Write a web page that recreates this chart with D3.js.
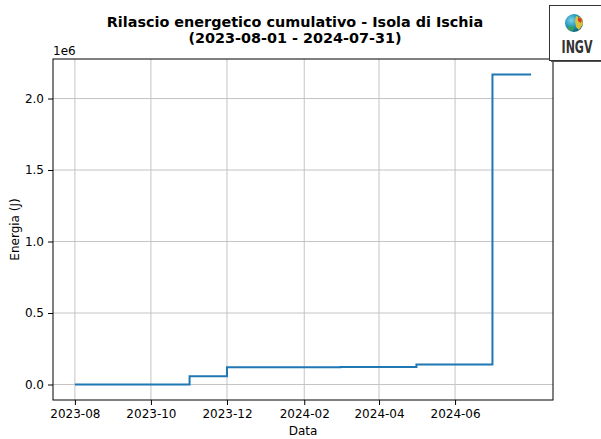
<!DOCTYPE html>
<html lang="it">
  <head>
    <meta charset="UTF-8" />
    <title>Rilascio energetico cumulativo - Isola di Ischia</title>
    <script src="https://d3js.org/d3.v7.min.js"></script>
    <style>
      body { margin: 0; background: #fff; }
      text { font-family: "DejaVu Sans", sans-serif; fill: #000; }
    </style>
  </head>
  <body>
    <svg width="601" height="439"></svg>
    <script>
      // cumulative energy, one point per month (step after), last point = end of period
      const dates = [
        "2023-08-01", "2023-09-01", "2023-10-01", "2023-11-01", "2023-12-01",
        "2024-01-01", "2024-02-01", "2024-03-01", "2024-04-01", "2024-05-01",
        "2024-06-01", "2024-07-01", "2024-08-01",
      ];
      const energy = [
        0, 0, 0, 58000, 121000,
        121000, 121000, 122000, 122000, 140000,
        140000, 2168000, 2168000,
      ];
      const xTicks = ["2023-08-01", "2023-10-01", "2023-12-01", "2024-02-01", "2024-04-01", "2024-06-01"];
      const yTicks = [0, 500000, 1000000, 1500000, 2000000];

      const parse = d3.utcParse("%Y-%m-%d");
      const data = dates.map((d, i) => ({ date: parse(d), value: energy[i] }));

      const svg = d3.select("svg");
      const margin = { top: 59, right: 48, bottom: 39, left: 53 };
      const width = 601 - margin.left - margin.right;
      const height = 439 - margin.top - margin.bottom;

      // matplotlib-like margins around the data
      const [x0, x1] = d3.extent(data, (d) => d.date);
      const xPad = (x1 - x0) * 0.048;
      const x = d3.scaleUtc()
        .domain([new Date(+x0 - xPad), new Date(+x1 + xPad)])
        .range([0, width]);
      const yMax = d3.max(energy);
      const y = d3.scaleLinear()
        .domain([-yMax * 0.05, yMax * 1.05])
        .range([height, 0]);

      const g = svg.append("g").attr("transform", `translate(${margin.left},${margin.top})`);

      // grid
      g.append("g")
        .selectAll("line")
        .data(xTicks.map(parse))
        .enter()
        .append("line")
        .attr("x1", (d) => x(d)).attr("x2", (d) => x(d))
        .attr("y1", 0).attr("y2", height)
        .style("stroke", "#c4c4c4").style("stroke-width", 1);
      g.append("g")
        .selectAll("line")
        .data(yTicks)
        .enter()
        .append("line")
        .attr("x1", 0).attr("x2", width)
        .attr("y1", (d) => y(d)).attr("y2", (d) => y(d))
        .style("stroke", "#c4c4c4").style("stroke-width", 1);

      // step line
      const line = d3.line()
        .x((d) => x(d.date))
        .y((d) => y(d.value))
        .curve(d3.curveStepAfter);
      g.append("path")
        .datum(data)
        .attr("d", line)
        .style("fill", "none")
        .style("stroke", "#1f77b4")
        .style("stroke-width", 2);

      // axes
      const xAxis = d3.axisBottom(x)
        .tickValues(xTicks.map(parse))
        .tickFormat(d3.utcFormat("%Y-%m"))
        .tickSize(5).tickPadding(4);
      const gx = g.append("g").attr("transform", `translate(0,${height})`).call(xAxis);
      const yAxis = d3.axisLeft(y)
        .tickValues(yTicks)
        .tickFormat((d) => d3.format(".1f")(d / 1e6))
        .tickSize(5).tickPadding(4);
      const gy = g.append("g").call(yAxis);
      [gx, gy].forEach((a) => {
        a.select(".domain").remove();
        a.selectAll("line").style("stroke", "#000");
        a.selectAll("text").style("font-size", "12px").style("font-family", "DejaVu Sans").attr("fill", "#000");
      });

      // frame
      g.append("rect")
        .attr("width", width).attr("height", height)
        .style("fill", "none").style("stroke", "#000").style("stroke-width", 1);

      svg.append("text").attr("x", 53).attr("y", 55)
        .style("font-size", "12px").text("1e6");

      // labels
      svg.append("text").attr("x", margin.left + width / 2).attr("y", 435)
        .attr("text-anchor", "middle").style("font-size", "12px").text("Data");
      svg.append("text")
        .attr("transform", `translate(19,${margin.top + height / 2}) rotate(-90)`)
        .attr("text-anchor", "middle").style("font-size", "12px").text("Energia (J)");

      // title
      const title = svg.append("text").attr("text-anchor", "middle")
        .style("font-size", "14.4px").style("font-weight", "bold");
      title.append("tspan").attr("x", 295).attr("y", 27).text("Rilascio energetico cumulativo - Isola di Ischia");
      title.append("tspan").attr("x", 295).attr("y", 43).text("(2023-08-01 - 2024-07-31)");

      // INGV logo
      const logo = svg.append("g");
      logo.append("rect").attr("x", 551).attr("y", 7).attr("width", 60).attr("height", 55)
        .style("fill", "#555");
      logo.append("rect").attr("x", 549.5).attr("y", 5.5).attr("width", 60).attr("height", 55)
        .style("fill", "#fff").style("stroke", "#333").style("stroke-width", 1);
      const grad = svg.append("defs").append("radialGradient").attr("id", "globe")
        .attr("cx", "35%").attr("cy", "35%").attr("r", "70%");
      grad.append("stop").attr("offset", "0%").attr("stop-color", "#7fd3e8");
      grad.append("stop").attr("offset", "60%").attr("stop-color", "#1a8fb3");
      grad.append("stop").attr("offset", "100%").attr("stop-color", "#0d5a7a");
      logo.append("circle").attr("cx", 574).attr("cy", 23).attr("r", 9).style("fill", "url(#globe)");
      logo.append("path").attr("d", "M576,16 L582,18 L583,24 L579,30 L576,27 L575,21 Z").style("fill", "#d8c23a");
      logo.append("path").attr("d", "M578,17 L582,19 L581,23 L578,21 Z").style("fill", "#d33a2c");
      logo.append("path").attr("d", "M568,26 L574,27 L573,31 L568,30 Z").style("fill", "#3aa05a");
      logo.append("text")
        .attr("transform", "translate(577,53) scale(0.85,1.35)")
        .attr("text-anchor", "middle")
        .style("font-size", "13px").style("font-weight", "bold").style("fill", "#333")
        .text("INGV");
    </script>
  </body>
</html>
